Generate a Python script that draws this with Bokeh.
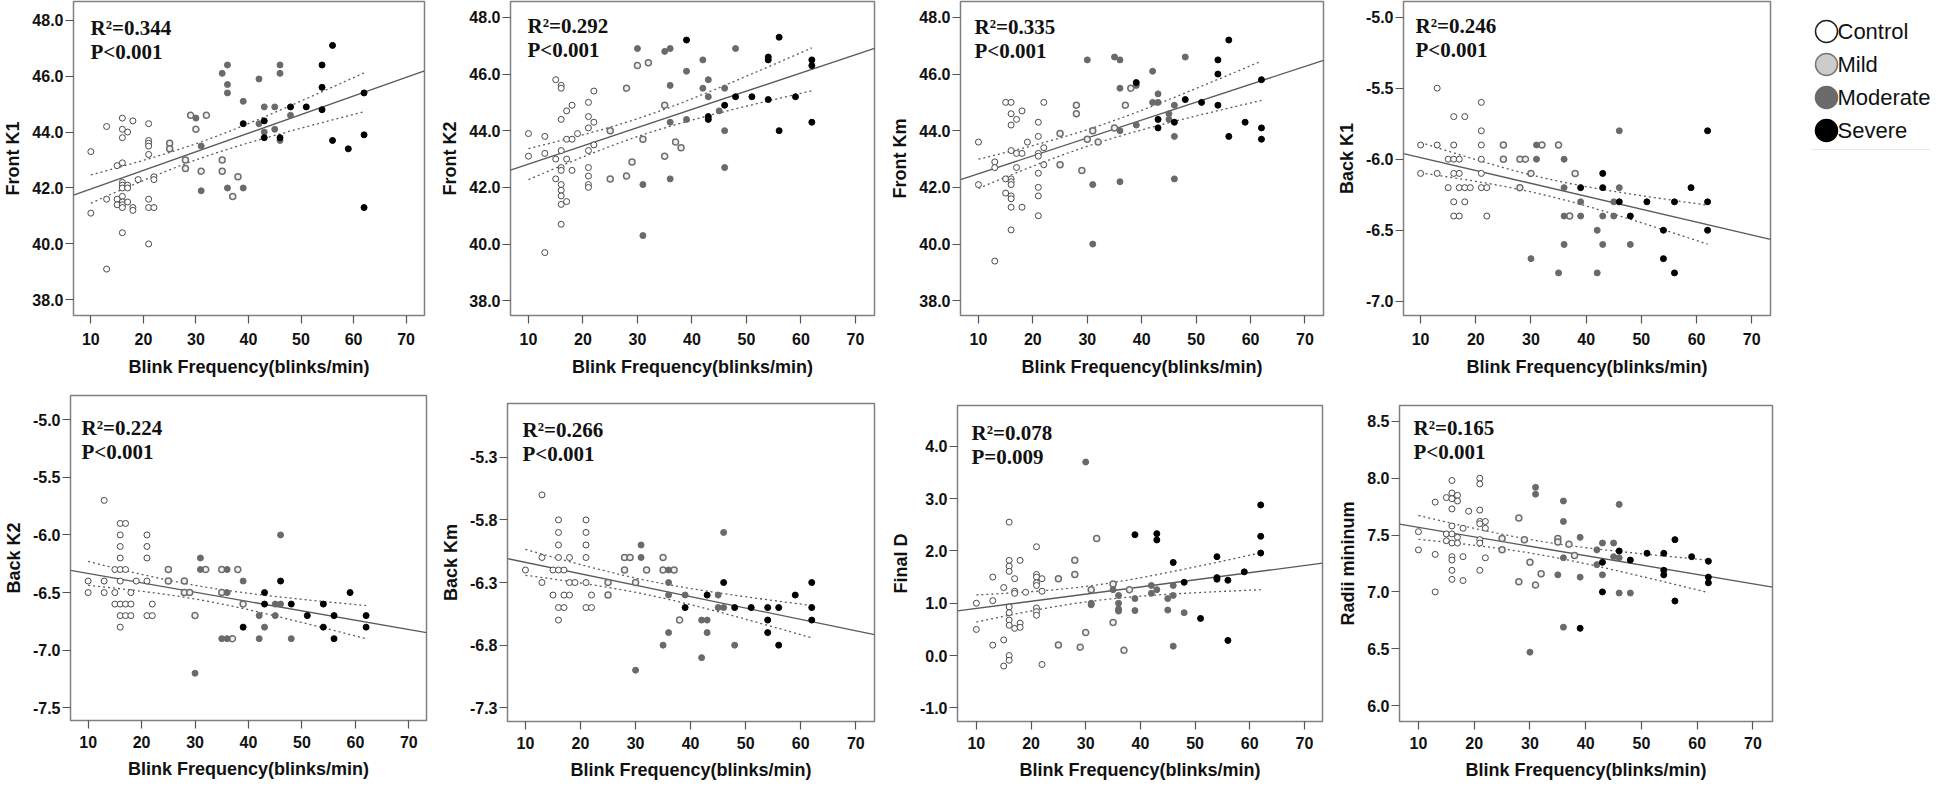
import numpy as np
from bokeh.plotting import figure
from bokeh.layouts import row, column
from bokeh.models import Label, NumeralTickFormatter, FixedTicker, Range1d
from bokeh.embed import file_html
from bokeh.resources import INLINE
from bokeh.core.properties import value

# ---------------- DATA ----------------
# Panel 1: Front K1
fk1_c_x = [10,10,13,13,13,15,15,15,16,16,16,16,16,16,16,16,16,16,16,16,17,17,17,17,18,18,18,19,21,21,21,21,21,21,21,21,22,22,22]
fk1_c_y = [43.3,41.1,44.2,41.6,39.1,42.8,41.6,41.4,44.5,44.1,43.8,42.9,42.2,42.1,42.0,41.7,41.5,41.4,41.3,40.4,44.0,42.1,42.0,41.5,44.4,41.3,41.2,42.3,44.3,43.7,43.6,43.5,43.2,41.6,41.3,40.0,42.4,42.3,41.3]
fk1_m_x = [25,25,28,28,29,30,31,32,35,35,37,38]
fk1_m_y = [43.6,43.4,43.0,42.7,44.6,44.1,42.6,44.6,43.0,42.6,41.7,42.4]
fk1_o_x = [30,31,31,35,36,36,36,36,39,39,42,42,43,43,45,45,46,46,46,48]
fk1_o_y = [44.5,43.5,41.9,46.1,46.4,45.7,45.4,42.0,45.1,42.0,45.9,44.3,44.9,44.0,44.9,44.1,46.4,46.1,43.7,44.6]
fk1_s_x = [39,43,43,46,48,51,54,54,54,56,56,59,62,62,62]
fk1_s_y = [44.3,44.4,43.8,43.8,44.9,44.9,46.4,45.6,44.8,47.1,43.7,43.4,45.4,43.9,41.3]

# Panel 2: Front K2
fk2_c_x = [10,10,13,13,13,15,15,15,16,16,16,16,16,16,16,16,16,16,16,17,17,17,17,18,18,18,19,21,21,21,21,21,21,21,21,22,22,22]
fk2_c_y = [43.9,43.1,43.8,43.2,39.7,45.8,43.0,42.3,45.6,45.5,44.4,43.3,42.7,42.6,42.1,41.9,41.7,41.4,40.7,44.7,43.7,43.0,41.5,44.9,43.7,42.6,43.9,45.0,44.5,44.1,43.3,42.7,42.4,42.1,42.0,45.4,44.3,43.5]
fk2_m_x = [25,25,28,28,29,30,31,32,35,35,37,38]
fk2_m_y = [44.0,42.3,45.5,42.4,42.9,46.3,43.7,46.4,44.9,43.1,43.6,43.4]
fk2_o_x = [30,31,31,35,36,36,36,36,39,39,42,42,43,43,45,46,46,46,48]
fk2_o_y = [46.9,42.1,40.3,46.8,46.9,45.6,44.3,42.3,46.1,44.4,46.5,45.5,45.8,45.2,44.7,45.5,44.0,42.7,46.9]
fk2_s_x = [39,43,43,46,48,51,54,54,54,56,56,59,62,62,62]
fk2_s_y = [47.2,44.5,44.4,44.9,45.2,45.2,46.6,46.5,45.1,47.3,44.0,45.2,46.5,46.3,44.3]

# Panel 3: Front Km
fkm_c_x = [10,10,13,13,13,15,15,15,16,16,16,16,16,16,16,16,16,16,16,17,17,17,18,18,18,19,21,21,21,21,21,21,21,21,22,22,22]
fkm_c_y = [43.6,42.1,42.9,42.7,39.4,45.0,42.3,41.8,45.0,44.6,44.2,43.3,42.3,42.2,42.1,41.7,41.6,41.3,40.5,44.4,43.2,42.7,44.7,43.2,41.3,43.6,44.3,43.8,43.2,43.1,42.5,42.0,41.7,41.0,45.0,43.4,42.8]
fkm_m_x = [25,25,28,28,29,30,31,32,35,37,38]
fkm_m_y = [43.9,42.8,44.9,44.6,42.6,43.7,44.0,43.6,44.1,44.9,45.5]
fkm_o_x = [30,31,31,35,36,36,36,36,39,39,42,42,43,43,45,45,46,46,46,48]
fkm_o_y = [46.5,42.1,40.0,46.6,46.5,45.5,44.0,42.2,45.6,44.2,46.1,45.0,45.3,45.0,44.6,44.4,44.9,43.8,42.3,46.6]
fkm_s_x = [39,43,43,46,48,51,54,54,54,56,56,59,62,62,62]
fkm_s_y = [45.7,44.4,44.1,44.3,45.1,45.0,46.5,46.0,44.9,47.2,43.8,44.3,45.8,44.1,43.7]

# Panel 4: Back K1
bk1_c_x = [13,21,16,18,21,10,13,16,21,15,16,17,21,10,13,16,17,21,15,17,18,19,21,22,16,18,16,17,22]
bk1_c_y = [-5.5,-5.6,-5.7,-5.7,-5.8,-5.9,-5.9,-5.9,-5.9,-6.0,-6.0,-6.0,-6.0,-6.1,-6.1,-6.1,-6.1,-6.1,-6.2,-6.2,-6.2,-6.2,-6.2,-6.2,-6.3,-6.3,-6.4,-6.4,-6.4]
bk1_m_x = [25,32,35,25,28,29,30,38,28,37]
bk1_m_y = [-5.9,-5.9,-5.9,-6.0,-6.0,-6.0,-6.1,-6.1,-6.2,-6.4]
bk1_o_x = [46,31,31,36,36,46,39,45,36,39,43,45,42,36,43,48,30,35,42]
bk1_o_y = [-5.8,-5.9,-6.0,-6.0,-6.2,-6.2,-6.3,-6.3,-6.4,-6.4,-6.4,-6.4,-6.5,-6.6,-6.6,-6.6,-6.7,-6.8,-6.8]
bk1_s_x = [62,43,39,43,59,46,51,56,62,48,54,62,54,56]
bk1_s_y = [-5.8,-6.1,-6.2,-6.2,-6.2,-6.3,-6.3,-6.3,-6.3,-6.4,-6.5,-6.5,-6.7,-6.8]

# Panel 5: Back K2
bk2_c_x = [13,16,17,16,21,16,21,16,21,15,16,17,10,13,16,19,21,10,13,15,18,15,16,17,18,22,16,17,18,21,22,16]
bk2_c_y = [-5.7,-5.9,-5.9,-6.0,-6.0,-6.1,-6.1,-6.2,-6.2,-6.3,-6.3,-6.3,-6.4,-6.4,-6.4,-6.4,-6.4,-6.5,-6.5,-6.5,-6.5,-6.6,-6.6,-6.6,-6.6,-6.6,-6.7,-6.7,-6.7,-6.7,-6.7,-6.8]
bk2_m_x = [25,32,35,38,25,28,28,29,35,39,30,37]
bk2_m_y = [-6.3,-6.3,-6.3,-6.3,-6.4,-6.4,-6.5,-6.5,-6.5,-6.6,-6.7,-6.9]
bk2_o_x = [46,31,31,36,39,36,45,46,42,45,43,35,36,42,48,30]
bk2_o_y = [-6.0,-6.2,-6.3,-6.3,-6.4,-6.5,-6.6,-6.6,-6.7,-6.7,-6.8,-6.9,-6.9,-6.9,-6.9,-7.2]
bk2_s_x = [46,43,59,43,48,54,51,56,62,39,54,62,56]
bk2_s_y = [-6.4,-6.5,-6.5,-6.6,-6.6,-6.6,-6.7,-6.7,-6.7,-6.8,-6.8,-6.8,-6.9]

# Panel 6: Back Km
bkm_c_x = [13,16,21,16,21,16,21,13,16,18,21,10,15,16,17,13,18,19,21,15,17,18,22,16,17,21,22,16]
bkm_c_y = [-5.6,-5.8,-5.8,-5.9,-5.9,-6.0,-6.0,-6.1,-6.1,-6.1,-6.1,-6.2,-6.2,-6.2,-6.2,-6.3,-6.3,-6.3,-6.3,-6.4,-6.4,-6.4,-6.4,-6.5,-6.5,-6.5,-6.5,-6.6]
bkm_m_x = [28,29,35,28,32,35,37,25,30,25,38]
bkm_m_y = [-6.1,-6.1,-6.1,-6.2,-6.2,-6.2,-6.2,-6.3,-6.3,-6.4,-6.6]
bkm_o_x = [46,31,31,36,36,36,39,45,45,46,42,43,36,43,35,48,42,30]
bkm_o_y = [-5.9,-6.0,-6.1,-6.2,-6.3,-6.4,-6.4,-6.4,-6.5,-6.5,-6.6,-6.6,-6.7,-6.7,-6.8,-6.8,-6.9,-7.0]
bkm_s_x = [46,62,43,59,39,48,51,54,56,62,54,62,54,56]
bkm_s_y = [-6.3,-6.3,-6.4,-6.4,-6.5,-6.5,-6.5,-6.5,-6.5,-6.5,-6.6,-6.6,-6.7,-6.8]

# Panel 7: Final D
fd_c_x = [10,10,13,13,13,15,15,15,16,16,16,16,16,16,16,16,16,16,17,17,17,17,18,18,18,19,21,21,21,21,21,21,21,21,22,22,22]
fd_c_y = [1.0,0.5,1.5,1.05,0.2,1.3,0.3,-0.2,2.55,1.82,1.71,1.61,0.93,0.82,0.68,0.58,0.0,-0.09,1.47,1.23,1.19,0.52,1.82,0.62,0.54,1.21,2.08,1.55,1.5,1.39,1.34,0.91,0.84,0.77,1.47,1.23,-0.17]
fd_m_x = [25,25,28,28,29,30,31,32,35,35,37,38]
fd_m_y = [1.47,0.2,1.82,1.55,0.16,0.44,1.26,2.24,1.37,0.63,0.1,1.26]
fd_o_x = [30,31,31,35,36,36,36,36,39,39,42,42,43,45,45,46,46,46,48]
fd_o_y = [3.7,1.0,0.97,1.26,1.15,1.0,0.89,0.85,1.09,0.86,1.34,1.19,1.26,1.09,0.87,1.34,1.15,0.18,0.82]
fd_s_x = [39,43,43,46,48,51,54,54,54,56,56,59,62,62,62]
fd_s_y = [2.31,2.33,2.21,1.78,1.4,0.71,1.89,1.49,1.46,1.44,0.29,1.6,2.88,2.28,1.96]

# Panel 8: Radii mininum
rm_c_x = [10,10,13,13,13,15,15,15,16,16,16,16,16,16,16,16,16,16,16,17,17,17,17,18,18,18,19,21,21,21,21,21,21,21,21,22,22,22]
rm_c_y = [7.53,7.37,7.79,7.33,7.0,7.83,7.51,7.45,7.98,7.87,7.82,7.73,7.58,7.51,7.43,7.31,7.28,7.19,7.11,7.85,7.8,7.48,7.43,7.56,7.31,7.1,7.71,8.0,7.95,7.72,7.62,7.6,7.46,7.43,7.19,7.62,7.56,7.3]
rm_m_x = [25,25,28,28,29,30,31,32,35,35,37,38]
rm_m_y = [7.47,7.37,7.65,7.09,7.46,7.26,7.06,7.16,7.47,7.44,7.42,7.32]
rm_o_x = [30,31,31,35,36,36,36,36,39,39,42,42,43,43,45,45,46,46,46,48]
rm_o_y = [6.47,7.92,7.86,7.15,7.8,7.62,7.3,6.69,7.48,7.13,7.37,7.24,7.43,7.15,7.43,7.31,7.77,7.3,6.99,6.99]
rm_s_x = [39,43,43,46,48,51,54,54,54,56,56,59,62,62,62]
rm_s_y = [6.68,7.26,7.0,7.36,7.28,7.34,7.34,7.19,7.15,7.46,6.92,7.31,7.27,7.13,7.08]

y_labels = ["Front K1", "Front K2", "Front Km", "Back K1", "Back K2", "Back Km", "Final D", "Radii mininum"]
r2_texts = ["R\u00b2=0.344", "R\u00b2=0.292", "R\u00b2=0.335", "R\u00b2=0.246", "R\u00b2=0.224", "R\u00b2=0.266", "R\u00b2=0.078", "R\u00b2=0.165"]
p_texts = ["P<0.001", "P<0.001", "P<0.001", "P<0.001", "P<0.001", "P<0.001", "P=0.009", "P<0.001"]
y_ticks = [[38, 40, 42, 44, 46, 48], [38, 40, 42, 44, 46, 48], [38, 40, 42, 44, 46, 48],
           [-7.0, -6.5, -6.0, -5.5, -5.0], [-7.5, -7.0, -6.5, -6.0, -5.5, -5.0],
           [-7.3, -6.8, -6.3, -5.8, -5.3], [-1, 0, 1, 2, 3, 4], [6.0, 6.5, 7.0, 7.5, 8.0, 8.5]]
x_ticks = [10, 20, 30, 40, 50, 60, 70]
x_label = "Blink Frequency(blinks/min)"
groups = ["Control", "Mild", "Moderate", "Severe"]

panel_data = [
    [(fk1_c_x, fk1_c_y), (fk1_m_x, fk1_m_y), (fk1_o_x, fk1_o_y), (fk1_s_x, fk1_s_y)],
    [(fk2_c_x, fk2_c_y), (fk2_m_x, fk2_m_y), (fk2_o_x, fk2_o_y), (fk2_s_x, fk2_s_y)],
    [(fkm_c_x, fkm_c_y), (fkm_m_x, fkm_m_y), (fkm_o_x, fkm_o_y), (fkm_s_x, fkm_s_y)],
    [(bk1_c_x, bk1_c_y), (bk1_m_x, bk1_m_y), (bk1_o_x, bk1_o_y), (bk1_s_x, bk1_s_y)],
    [(bk2_c_x, bk2_c_y), (bk2_m_x, bk2_m_y), (bk2_o_x, bk2_o_y), (bk2_s_x, bk2_s_y)],
    [(bkm_c_x, bkm_c_y), (bkm_m_x, bkm_m_y), (bkm_o_x, bkm_o_y), (bkm_s_x, bkm_s_y)],
    [(fd_c_x, fd_c_y), (fd_m_x, fd_m_y), (fd_o_x, fd_o_y), (fd_s_x, fd_s_y)],
    [(rm_c_x, rm_c_y), (rm_m_x, rm_m_y), (rm_o_x, rm_o_y), (rm_s_x, rm_s_y)],
]

# ---------------- LAYOUT / STYLE ----------------
x_ranges = [(6.7, 73.5), (6.7, 73.5), (6.7, 73.4), (6.9, 73.4),
            (6.7, 73.3), (6.74, 73.4), (6.55, 73.3), (6.6, 73.5)]
y_ranges = [(37.44, 48.67), (37.48, 48.56), (37.48, 48.56), (-7.10, -4.89),
            (-7.61, -4.79), (-7.41, -4.87), (-1.26, 4.78), (5.86, 8.64)]
# (width, height, left, right, top, bottom)
geom = [(437, 392, 60, 13, 1, 77), (450, 392, 73, 13, 1, 77), (445, 392, 72, 9, 1, 77), (450, 392, 71, 12, 1, 77),
        (437, 390, 60, 11, 3, 62), (450, 390, 69, 13, 11, 59), (445, 390, 68, 10, 13, 58), (460, 390, 67, 20, 13, 58)]
# (tick label standoff, axis label standoff)
x_standoffs = [(9, 9), (9, 9), (9, 9), (9, 9), (7, 8), (7, 8), (7, 8), (7, 8)]
text_off = [(17, 26), (17, 24), (14, 25), (12, 24), (11, 32), (15, 26), (14, 27), (14, 22)]

styles = {
    "Control": dict(fill_color="white", line_color="#4a4a4a", line_width=1.0),
    "Mild": dict(fill_color="#f0f0f0", line_color="#6e6e6e", line_width=1.5),
    "Moderate": dict(fill_color="#6a6a6a", line_color="#6a6a6a", line_width=1.0),
    "Severe": dict(fill_color="#000000", line_color="#000000", line_width=1.0),
}

SANS = "Liberation Sans"
SERIF = "Liberation Serif"


def make_panel(i):
    w, h, bl, br, bt, bb = geom[i]
    p = figure(width=w, height=h, x_range=Range1d(*x_ranges[i]), y_range=Range1d(*y_ranges[i]),
               output_backend="svg", toolbar_location=None,
               min_border_left=bl, min_border_right=br, min_border_top=bt, min_border_bottom=bb)
    p.grid.visible = False
    p.outline_line_color = "#808080"
    p.outline_line_width = 1.5
    p.background_fill_color = "white"
    p.border_fill_color = "white"
    for ax in (p.xaxis[0], p.yaxis[0]):
        ax.axis_line_color = None
        ax.major_tick_line_color = "#555555"
        ax.major_tick_line_width = 1.2
        ax.major_tick_in = 0
        ax.major_tick_out = 8
        ax.minor_tick_line_color = None
        ax.major_label_text_font = SANS
        ax.major_label_text_font_style = "bold"
        ax.major_label_text_font_size = "16px"
        ax.major_label_text_color = "#111111"
        ax.axis_label_text_font = SANS
        ax.axis_label_text_font_style = "bold"
        ax.axis_label_text_font_size = "18px"
        ax.axis_label_text_color = "#111111"
    p.xaxis.ticker = FixedTicker(ticks=x_ticks)
    p.yaxis.ticker = FixedTicker(ticks=y_ticks[i])
    p.yaxis.formatter = NumeralTickFormatter(format="0.0")
    p.xaxis.major_label_standoff = x_standoffs[i][0]
    p.yaxis.major_label_standoff = 2
    p.xaxis.axis_label_standoff = x_standoffs[i][1]
    p.yaxis.axis_label_standoff = 6
    p.xaxis.axis_label = x_label
    p.yaxis.axis_label = y_labels[i]

    # least-squares fit over all points, with 95% confidence band of the mean
    xs = np.concatenate([np.asarray(d[0], float) for d in panel_data[i]])
    ys = np.concatenate([np.asarray(d[1], float) for d in panel_data[i]])
    n = len(xs)
    xm, ym = xs.mean(), ys.mean()
    sxx = ((xs - xm) ** 2).sum()
    b = ((xs - xm) * (ys - ym)).sum() / sxx
    a = ym - b * xm
    s = np.sqrt(((ys - a - b * xs) ** 2).sum() / (n - 2))
    tval = 1.99
    x0, x1 = x_ranges[i]
    p.line([x0, x1], [a + b * x0, a + b * x1], line_color="#5a5a5a", line_width=1.3)
    xg = np.linspace(xs.min(), xs.max(), 60)
    half = tval * s * np.sqrt(1.0 / n + (xg - xm) ** 2 / sxx)
    p.line(xg, a + b * xg + half, line_color="#5a5a5a", line_width=1.3, line_dash="2 3")
    p.line(xg, a + b * xg - half, line_color="#5a5a5a", line_width=1.3, line_dash="2 3")

    for g, (gx, gy) in zip(groups, panel_data[i]):
        p.scatter(gx, gy, size=6, marker="circle", **styles[g])

    dx, dy = text_off[i]
    p.add_layout(Label(x=x0, y=y_ranges[i][1], x_offset=dx, y_offset=-dy, text=r2_texts[i],
                       text_font=SERIF, text_font_style="bold", text_font_size="21px",
                       text_color="#111111", text_baseline="alphabetic"))
    p.add_layout(Label(x=x0, y=y_ranges[i][1], x_offset=dx, y_offset=-(dy + 24), text=p_texts[i],
                       text_font=SERIF, text_font_style="bold", text_font_size="21px",
                       text_color="#111111", text_baseline="alphabetic"))
    return p


panels = [make_panel(i) for i in range(8)]

# Legend panel (its frame spans the same vertical band as the top-row frames;
# data coordinates equal pixel offsets from the top of the figure)
leg = figure(width=148, height=392, x_range=Range1d(0, 148), y_range=Range1d(315, 1),
             output_backend="svg", toolbar_location=None, x_axis_location=None, y_axis_location=None,
             min_border_left=0, min_border_right=0, min_border_top=1, min_border_bottom=77)
leg.grid.visible = False
leg.outline_line_color = None
leg_fill = ["white", "#cccccc", "#6a6a6a", "#000000"]
leg_line = ["#222222", "#777777", "#6a6a6a", "#000000"]
leg_y = [31, 64, 97, 130]
leg.scatter([44] * 4, leg_y, size=22, marker="circle", fill_color=leg_fill, line_color=leg_line, line_width=1.5)
leg.text([55] * 4, leg_y, text=groups, text_font=value(SANS), text_font_size="22px",
         text_baseline="middle", text_align="left", text_color="#111111")
leg.line([30, 148], [149, 149], line_color="#e6e6e6", line_width=1)

layout = column(row(column(panels[0]), column(panels[1]), column(panels[2]), column(panels[3]), column(leg)),
                row(column(panels[4]), column(panels[5]), column(panels[6]), column(panels[7])))

open("out.html", "w").write(file_html(layout, INLINE))
